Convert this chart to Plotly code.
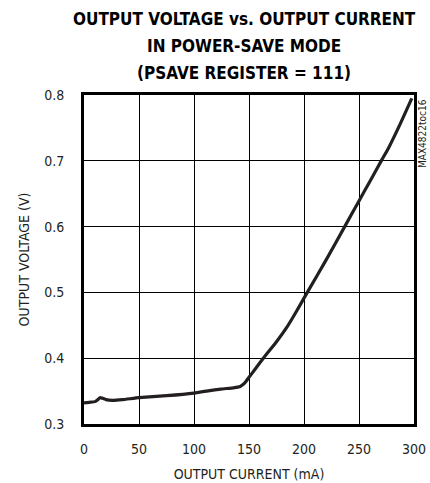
import plotly.graph_objects as go

current_ma = [0, 5, 10, 12.5, 14.5, 17, 20, 26, 35, 50, 75, 100, 124, 136, 142, 146, 150, 155, 163, 175, 184, 192, 203, 220, 237, 250, 260, 270.6, 277, 288, 298]
voltage_v = [0.332, 0.333, 0.334, 0.337, 0.340, 0.339, 0.337, 0.336, 0.337, 0.340, 0.343, 0.347, 0.353, 0.355, 0.357, 0.362, 0.371, 0.382, 0.400, 0.425, 0.446, 0.468, 0.500, 0.549, 0.600, 0.639, 0.669, 0.701, 0.720, 0.758, 0.795]

x_ticks = [0, 50, 100, 150, 200, 250, 300]
y_ticks = [0.3, 0.4, 0.5, 0.6, 0.7, 0.8]
y_ticklabels = ["0.3", "0.4", "0.5", "0.6", "0.7", "0.8"]
title_lines = ["OUTPUT VOLTAGE vs. OUTPUT CURRENT", "IN POWER-SAVE MODE", "(PSAVE REGISTER = 111)"]

NARROW = "DejaVu Sans Condensed, Liberation Sans, sans-serif"
INK = "#231f20"

fig = go.Figure()
fig.add_trace(go.Scatter(x=current_ma, y=voltage_v, mode="lines",
                         line=dict(color=INK, width=3.2, shape="spline", smoothing=0.4),
                         showlegend=False, hoverinfo="skip"))

fig.update_layout(
    width=430, height=483,
    margin=dict(l=84, r=16, t=95, b=59),
    paper_bgcolor="white", plot_bgcolor="white",
    font=dict(family=NARROW, color=INK),
)
fig.update_xaxes(range=[0, 300], tickvals=x_ticks, showgrid=True, gridcolor="black", gridwidth=1,
                 showline=True, linecolor="black", linewidth=3, mirror=True, zeroline=False,
                 automargin=False,
                 ticks="", ticklabelstandoff=10, tickfont=dict(size=14, family=NARROW, color=INK),
                 title=dict(text="OUTPUT CURRENT (mA)", font=dict(size=14, family=NARROW, color=INK), standoff=14))
fig.update_yaxes(range=[0.3, 0.8], tickvals=y_ticks, ticktext=y_ticklabels, showgrid=True, gridcolor="black", gridwidth=1,
                 showline=True, linecolor="black", linewidth=3, mirror=True, zeroline=False,
                 automargin=False,
                 ticks="", ticklabelstandoff=14, tickfont=dict(size=14, family=NARROW, color=INK),
                 title=dict(text="OUTPUT VOLTAGE (V)", font=dict(size=14, family=NARROW, color=INK), standoff=12))

for i, line in enumerate(title_lines):
    fig.add_annotation(text="<b>" + line + "</b>", xref="paper", yref="paper",
                       x=0.485, y=1.0, yshift=95 - 18.5 - 27 * i,
                       xanchor="center", yanchor="middle", showarrow=False,
                       font=dict(size=17, family=NARROW, color="black"))

fig.add_annotation(text="MAX4822toc16", xref="paper", yref="paper", x=1.0, y=1.0,
                   xanchor="left", yanchor="top", xshift=1, yshift=-2, textangle=-90, showarrow=False,
                   font=dict(size=10, family=NARROW, color=INK))

fig.write_html("out.html", config={"displayModeBar": False, "staticPlot": True},
               post_script="document.body.style.margin='0';document.body.style.overflow='hidden';")
